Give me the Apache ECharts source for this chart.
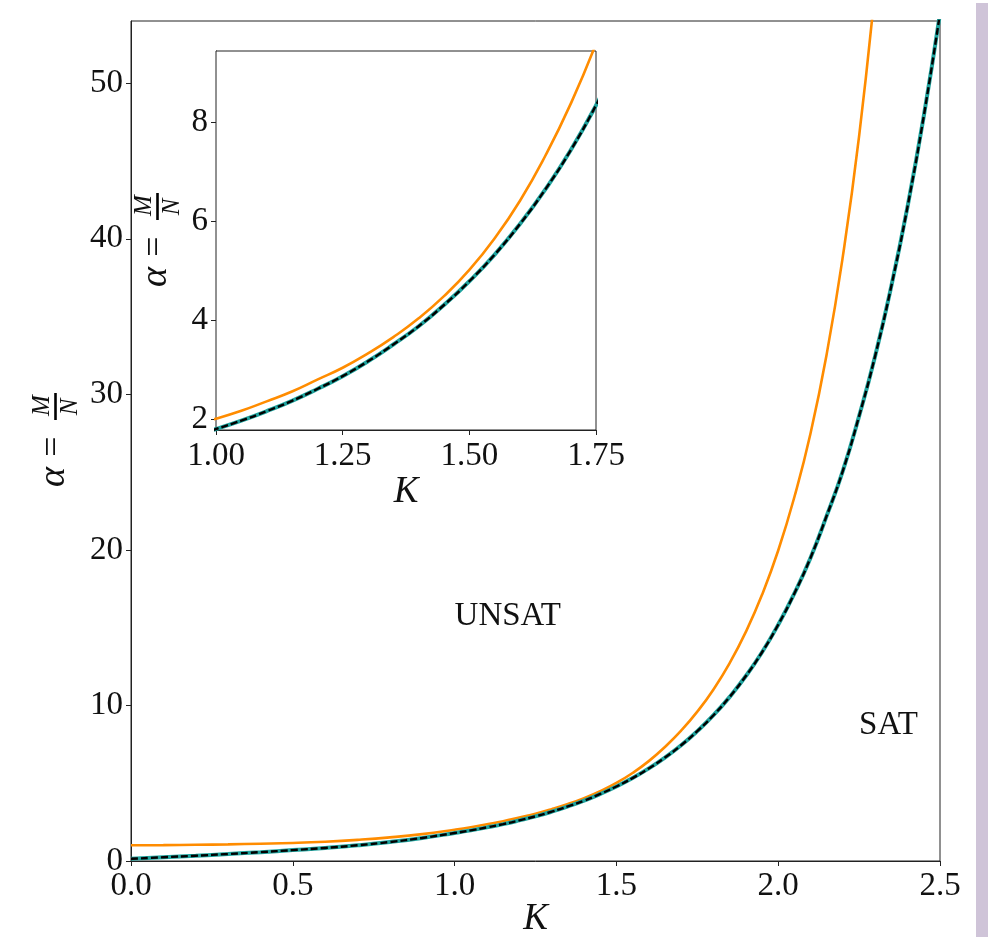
<!DOCTYPE html>
<html><head><meta charset="utf-8">
<script src="https://cdn.jsdelivr.net/npm/echarts@6/dist/echarts.min.js"></script>
<style>html,body{margin:0;padding:0;background:#fff}#c{width:988px;height:937px}</style>
</head><body><div id="c"></div>
<script>
// ---- data ----
const kValues = [0,0.1,0.2,0.3,0.4,0.5,0.6,0.7,0.8,0.9,1.0,1.05,1.1,1.15,1.2,1.25,1.3,1.35,1.4,1.45,1.5,1.55,1.6,1.65,1.7,1.75,1.8,1.85,1.9,1.95,2.0,2.05,2.1,2.15,2.2,2.25,2.3,2.35,2.4,2.45,2.5];
const alphaSat = [0.14,0.24,0.34,0.45,0.57,0.70,0.84,1.01,1.22,1.48,1.80,1.97,2.16,2.37,2.61,2.87,3.17,3.51,3.88,4.31,4.79,5.33,5.95,6.65,7.44,8.35,9.37,10.55,11.89,13.42,15.19,17.2,19.5,22.2,25.1,28.6,32.5,37.0,42.1,47.9,54.5];
const alphaBound = [1.01,1.02,1.04,1.07,1.11,1.16,1.24,1.36,1.52,1.73,2.01,2.17,2.36,2.56,2.80,3.04,3.33,3.66,4.04,4.49,5.02,5.66,6.42,7.33,8.38,9.60,11.03,12.72,14.73,17.11,19.96,23.4,27.5,32.6,38.9,46.6,56.2,null,null,null,null];
const mainXTicks = [0,0.5,1.0,1.5,2.0,2.5];
const mainYTicks = [0,10,20,30,40,50];
const insetXTicks = [1.0,1.25,1.5,1.75];
const insetYTicks = [2,4,6,8];
const regionLabels = [{text:'UNSAT', k:1.0, a:15}, {text:'SAT', k:2.25, a:8}];

const FONT = "'Liberation Serif','DejaVu Serif',serif";
const toPairs = (ys) => kValues.map((k,i) => [k, ys[i]]);

const chart = echarts.init(document.getElementById('c'), null, {renderer:'canvas'});

function xAxisCfg(gridIndex, min, max, ticks, digits, gap, margin){
  return {
    type:'value', gridIndex, min, max,
    axisLine:{show:true, onZero:false, lineStyle:{color:'#222', width:1}},
    axisTick:{show:true, customValues:ticks, length:5, lineStyle:{color:'#222'}},
    axisLabel:{show:true, customValues:ticks, margin:margin, color:'#111', fontFamily:FONT, fontSize:33,
      formatter:(v)=>Number(v).toFixed(digits)},
    splitLine:{show:false},
    name:'K', nameLocation:'middle', nameGap:gap, nameMoveOverlap:false,
    nameTextStyle:{fontFamily:FONT, fontStyle:'italic', fontSize:37, color:'#111'}
  };
}
function yAxisCfg(gridIndex, min, max, ticks){
  return {
    type:'value', gridIndex, min, max,
    axisLine:{show:true, onZero:false, lineStyle:{color:'#222', width:1}},
    axisTick:{show:true, customValues:ticks, length:5, lineStyle:{color:'#222'}},
    axisLabel:{show:true, customValues:ticks, margin:8, color:'#111', fontFamily:FONT, fontSize:33,
      formatter:(v)=>String(Math.round(v))},
    splitLine:{show:false}
  };
}
function seriesSet(axisIndex, zBase){
  return [
    {type:'line', xAxisIndex:axisIndex, yAxisIndex:axisIndex, data:toPairs(alphaBound), smooth:0.5,
      showSymbol:false, clip:true, z:zBase, lineStyle:{color:'#ff8c00', width:2.6}},
    {type:'line', xAxisIndex:axisIndex, yAxisIndex:axisIndex, data:toPairs(alphaSat), smooth:0.5,
      showSymbol:false, clip:true, z:zBase+1, lineStyle:{color:'#1fa39e', width:4}},
    {type:'line', xAxisIndex:axisIndex, yAxisIndex:axisIndex, data:toPairs(alphaSat), smooth:0.5,
      showSymbol:false, clip:true, z:zBase+2, lineStyle:{color:'#000', width:2.4, type:[7,3]}}
  ];
}

chart.setOption({
  animation:false,
  backgroundColor:'#fff',
  grid:[
    {left:131, top:21, width:809, height:840, show:true, borderColor:'#222', borderWidth:1, backgroundColor:'#fff', z:0, outerBoundsMode:'none', containLabel:false},
    {left:216, top:51, width:380, height:379, show:true, borderColor:'#222', borderWidth:1, backgroundColor:'#fff', z:10, outerBoundsMode:'none', containLabel:false}
  ],
  xAxis:[ xAxisCfg(0, 0, 2.5, mainXTicks, 1, 40, 9), xAxisCfg(1, 1.0, 1.75, insetXTicks, 2, 44, 10) ],
  yAxis:[ yAxisCfg(0, 0, 54, mainYTicks), yAxisCfg(1, 1.78, 9.45, insetYTicks) ],
  series:[ ...seriesSet(0, 2), ...seriesSet(1, 12) ]
});

function yLabel(id, cx, cy){
  return {
    type:'group', id, x:cx, y:cy, rotation:Math.PI/2, z:50,
    children:[
      {type:'text', x:-37, y:-2, style:{text:'α', font:"italic 38px "+FONT, fill:'#111', textAlign:'center', textVerticalAlign:'middle'}},
      {type:'text', x:-6.5, y:-2, style:{text:'=', font:"36px "+FONT, fill:'#111', textAlign:'center', textVerticalAlign:'middle'}},
      {type:'text', x:34.5, y:-14, style:{text:'M', font:"italic 25px "+FONT, fill:'#111', textAlign:'center', textVerticalAlign:'middle'}},
      {type:'line', shape:{x1:20, y1:-0.5, x2:47, y2:-0.5}, style:{stroke:'#000', lineWidth:2.6}},
      {type:'text', x:33, y:14, style:{text:'N', font:"italic 25px "+FONT, fill:'#111', textAlign:'center', textVerticalAlign:'middle'}}
    ]
  };
}

const graphics = [
  {type:'rect', id:'strip', shape:{x:976, y:3, width:12, height:934}, style:{fill:'#cfc4d8'}, z:1},
  yLabel('ylab-main', 56, 440),
  yLabel('ylab-inset', 158, 240)
];
regionLabels.forEach((r, i) => {
  const p = chart.convertToPixel({gridIndex:0}, [r.k, r.a]);
  graphics.push({type:'text', id:'reg'+i, x:p[0], y:p[1] - 0.33*33, z:50,
    style:{text:r.text, font:"33px "+FONT, fill:'#111', textAlign:'left', textVerticalAlign:'middle'}});
});
chart.setOption({graphic:graphics});
</script>
</body></html>
